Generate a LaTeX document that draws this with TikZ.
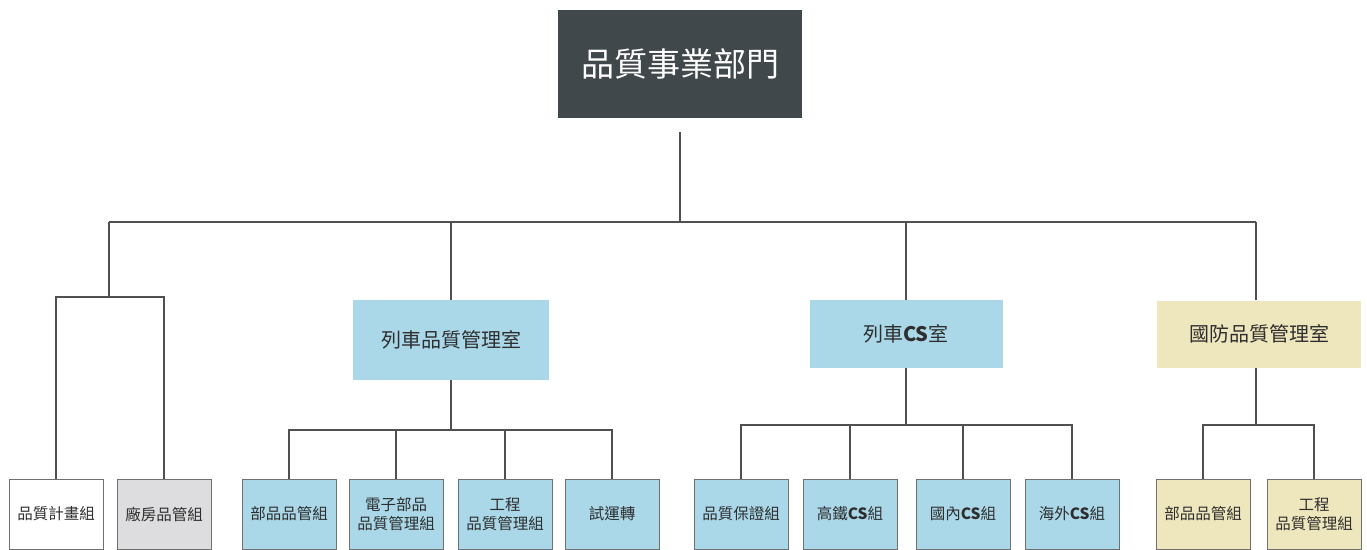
\documentclass[tikz,border=0pt]{standalone}
\usepackage{fontspec}
\newfontfamily\cjk{Noto Sans CJK TC}
\definecolor{topfill}{HTML}{41484B}
\definecolor{bluefill}{HTML}{AAD8E9}
\definecolor{yellowfill}{HTML}{EEE7BD}
\definecolor{grayfill}{HTML}{DDDDDF}
\definecolor{linecol}{HTML}{505050}
\definecolor{bordercol}{HTML}{707070}
\definecolor{textcol}{HTML}{2E2E2E}
\begin{document}
\begin{tikzpicture}[x=1pt,y=-1pt,
  conn/.style={draw=linecol,line width=1.4pt},
  topbox/.style={fill=topfill,text=white,minimum width=244pt,minimum height=108pt,inner sep=0pt,font=\cjk\fontsize{33}{36}\selectfont},
  midbox/.style={inner sep=0pt,minimum height=#1,minimum width=196pt,text=textcol,font=\cjk\fontsize{20}{24}\selectfont},
  lowbox/.style={draw=bordercol,line width=1pt,inner sep=0pt,minimum width=94pt,minimum height=70pt,text=textcol,align=center,font=\cjk\fontsize{15.5}{19}\selectfont},
]
\useasboundingbox (0,0) rectangle (1367,549);
% top
\node[topbox] (top) at (680,64) {品質事業部門};
% level 2
\node[midbox=80pt,fill=bluefill] (tq) at (451,340) {列車品質管理室};
\node[midbox=68pt,fill=bluefill,minimum width=193pt] (cs) at (906,334) {列車\textbf{CS}室};
\node[midbox=67pt,fill=yellowfill,minimum width=204pt] (df) at (1259,334) {國防品質管理室};
% bottom
\node[lowbox,fill=white] (b1) at (56,514) {品質計畫組};
\node[lowbox,fill=grayfill] (b2) at (164,514) {廠房品管組};
\node[lowbox,fill=bluefill] (b3) at (289,514) {部品品管組};
\node[lowbox,fill=bluefill] (b4) at (396,514) {電子部品\\品質管理組};
\node[lowbox,fill=bluefill] (b5) at (505,514) {工程\\品質管理組};
\node[lowbox,fill=bluefill] (b6) at (612,514) {試運轉};
\node[lowbox,fill=bluefill] (b7) at (741,514) {品質保證組};
\node[lowbox,fill=bluefill] (b8) at (850,514) {高鐵\textbf{CS}組};
\node[lowbox,fill=bluefill] (b9) at (963,514) {國內\textbf{CS}組};
\node[lowbox,fill=bluefill] (b10) at (1072,514) {海外\textbf{CS}組};
\node[lowbox,fill=yellowfill] (b11) at (1203,514) {部品品管組};
\node[lowbox,fill=yellowfill] (b12) at (1314,514) {工程\\品質管理組};
% coordinates
\coordinate (bus) at (680,222);
\coordinate (lg) at (109,222);
\coordinate (lgb) at (109,297);
% connectors from top
\draw[conn] ([yshift=-14pt]top.south) -- (bus);
\draw[conn] (lg) -- (1256,222);
\draw[conn] (lg) -- (lgb);
\draw[conn] (b1.north) |- (lgb) -| (b2.north);
\draw[conn] (tq.north) -- (tq.north |- bus);
\draw[conn] (cs.north) -- (cs.north |- bus);
\draw[conn] (df.north -| 1256,0) -- (1256,222);
% train quality
\draw[conn] (tq.south) -- (tq.south |- 0,430);
\draw[conn] (b3.north) |- (b6.north |- 0,430) -- (b6.north);
\draw[conn] (b4.north) -- (b4.north |- 0,430);
\draw[conn] (b5.north) -- (b5.north |- 0,430);
% CS
\draw[conn] (cs.south) -- (cs.south |- 0,425);
\draw[conn] (b7.north) |- (b10.north |- 0,425) -- (b10.north);
\draw[conn] (b8.north) -- (b8.north |- 0,425);
\draw[conn] (b9.north) -- (b9.north |- 0,425);
% defense
\draw[conn] (df.south -| 1256,0) -- (1256,425);
\draw[conn] (b11.north) |- (b12.north |- 0,425) -- (b12.north);
\end{tikzpicture}
\end{document}
